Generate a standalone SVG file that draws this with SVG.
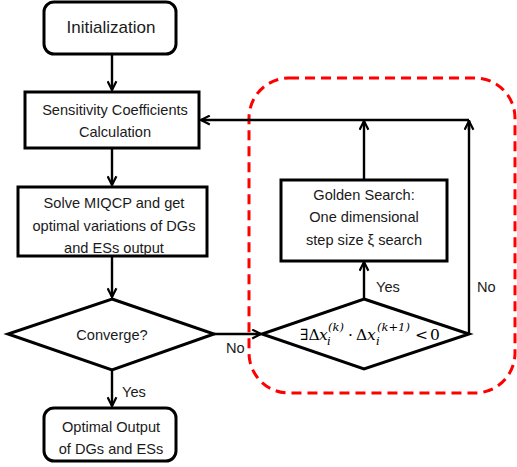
<svg xmlns="http://www.w3.org/2000/svg" width="517" height="467" viewBox="0 0 517 467">
<style>
.box{fill:#fff;stroke:#000;stroke-width:3}
.t{font-family:"Liberation Sans",Arial,sans-serif;font-size:14.6px;fill:#1a1a1a;text-anchor:middle}
.lbl{font-family:"Liberation Sans",Arial,sans-serif;font-size:14.6px;fill:#1a1a1a}
.m{font-family:"DejaVu Serif","Liberation Serif",serif;fill:#000}
.c{fill:none;stroke:#000;stroke-width:2.4}
</style>
<defs>
<marker id="ah" viewBox="0 0 10 10" refX="9" refY="5" markerWidth="11" markerHeight="11" markerUnits="userSpaceOnUse" orient="auto">
<path d="M1,1 L9,5 L1,9" fill="none" stroke="#000" stroke-width="2"/>
</marker>
</defs>
<rect id="region" x="249" y="78" width="266" height="315" rx="40" fill="none" stroke="#ff0000" stroke-width="3" stroke-dasharray="10,6"/>
<g id="connectors">
<line class="c" x1="112" y1="54" x2="112" y2="90" marker-end="url(#ah)"/>
<line class="c" x1="112" y1="148" x2="112" y2="185" marker-end="url(#ah)"/>
<line class="c" x1="112" y1="256" x2="112" y2="297" marker-end="url(#ah)"/>
<line class="c" x1="112" y1="370" x2="112" y2="406" marker-end="url(#ah)"/>
<line class="c" x1="214" y1="334" x2="261" y2="334" marker-end="url(#ah)"/>
<line class="c" x1="364" y1="299" x2="364" y2="262" marker-end="url(#ah)"/>
<line class="c" x1="364" y1="180" x2="364" y2="121" marker-end="url(#ah)"/>
<polyline class="c" points="469,334 469,120"/>
<line class="c" x1="469" y1="130" x2="469" y2="121" marker-end="url(#ah)"/>
<line class="c" x1="469" y1="120" x2="201" y2="120" marker-end="url(#ah)"/>
<text class="lbl" x="122" y="397">Yes</text>
<text class="lbl" x="226" y="353">No</text>
<text class="lbl" x="376" y="292">Yes</text>
<text class="lbl" x="477" y="292">No</text>
</g>
<g id="init">
<rect class="box" x="44" y="2" width="132" height="52" rx="10"/>
<text class="t" x="111" y="33" style="font-size:17px">Initialization</text>
</g>
<g id="sensitivity">
<rect class="box" x="25" y="92" width="174" height="56"/>
<text class="t" x="115" y="115">Sensitivity Coefficients</text>
<text class="t" x="115" y="137">Calculation</text>
</g>
<g id="solve">
<rect class="box" x="18" y="187" width="189" height="69"/>
<text class="t" x="114" y="208">Solve MIQCP and get</text>
<text class="t" x="114" y="231">optimal variations of DGs</text>
<text class="t" x="114" y="253">and ESs output</text>
</g>
<g id="converge">
<polygon class="box" points="112,299 214,334 112,370 8,334"/>
<text class="t" x="112" y="340">Converge?</text>
</g>
<g id="optimal">
<rect class="box" x="44" y="408" width="132" height="53" rx="10"/>
<text class="t" x="111" y="432">Optimal Output</text>
<text class="t" x="111" y="454">of DGs and ESs</text>
</g>
<g id="golden">
<rect class="box" x="281" y="180" width="166" height="81"/>
<text class="t" x="364" y="200">Golden Search:</text>
<text class="t" x="364" y="222">One dimensional</text>
<text class="t" x="364" y="245">step size ξ search</text>
</g>
<g id="condition">
<polygon class="box" points="364,299 469,334 364,369 262,334"/>
<text class="m" font-size="15.5"><tspan x="300" y="340">∃Δ</tspan><tspan x="319" y="340" font-style="italic">x</tspan><tspan x="328" y="331" font-size="11.5" font-style="italic">(k)</tspan><tspan x="327" y="345" font-size="11.5" font-style="italic">i</tspan><tspan x="348" y="340">·</tspan><tspan x="356" y="340">Δ</tspan><tspan x="367" y="340" font-style="italic">x</tspan><tspan x="377" y="331" font-size="11.5" font-style="italic">(k+1)</tspan><tspan x="376" y="345" font-size="11.5" font-style="italic">i</tspan><tspan x="415" y="340">&lt;</tspan><tspan x="430" y="340">0</tspan></text>
</g>
</svg>
